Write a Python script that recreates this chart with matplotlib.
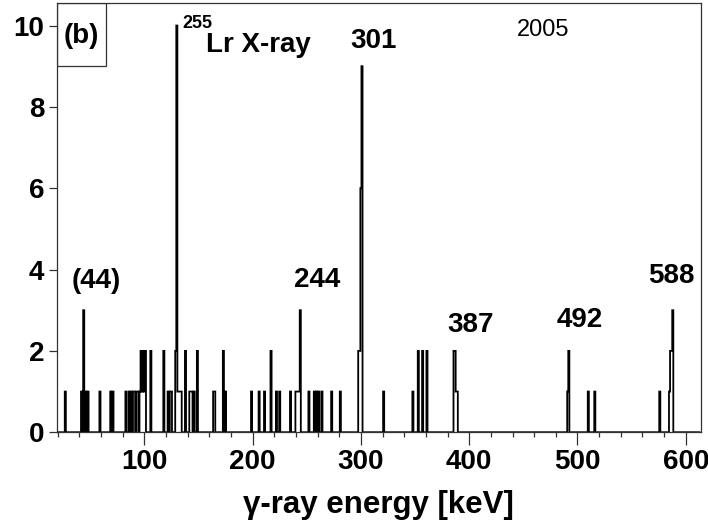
import matplotlib.pyplot as plt
import numpy as np
from matplotlib.patches import Rectangle
from matplotlib.ticker import MultipleLocator

# non-empty 1 keV bins of the gamma-ray spectrum
energy = [27, 42, 44, 46, 48, 59, 69, 71,
          83, 86, 88, 90, 91, 93, 94, 96, 97, 98, 99, 100, 101,
          106, 118, 122, 124, 125, 129, 130, 131, 132, 133, 134,
          138, 142, 143, 144, 146, 149, 164, 165, 173, 175,
          199, 206, 211, 217, 222, 225, 235, 240, 241, 242, 243, 244,
          252, 257, 259, 261, 264, 273, 281, 298, 299, 300, 301,
          321, 348, 353, 357, 361, 386, 387, 388, 389,
          491, 492, 510, 516, 576, 585, 586, 587, 588]
counts = [1, 1, 3, 1, 1, 1, 1, 1,
          1, 1, 1, 1, 1, 1, 1, 1, 2, 1, 2, 1, 2,
          2, 2, 1, 1, 1, 2, 10, 1, 1, 1, 1,
          2, 1, 1, 1, 1, 2, 1, 1, 2, 1,
          1, 1, 1, 2, 1, 1, 1, 1, 1, 1, 1, 3,
          1, 1, 1, 1, 1, 1, 1, 2, 2, 6, 9,
          1, 1, 2, 2, 2, 2, 2, 1, 1,
          1, 2, 1, 1, 1, 1, 2, 2, 3]

peak_labels = ['(44)', '244', '301', '387', '492', '588']
peak_label_xy = [(56, 3.73), (260, 3.75), (312, 9.62), (401, 2.64), (502, 2.77), (587, 3.83)]

e_lo, e_hi = 19, 614

plt.rcParams['font.family'] = ['Liberation Sans', 'DejaVu Sans']

fig = plt.figure(figsize=(7.08, 5.31), dpi=100)
ax = fig.add_axes([0.080, 0.186, 0.910, 0.808])

edges = np.arange(e_lo, e_hi + 1) - 0.5
hist = np.zeros(len(edges) - 1)
hist[np.array(energy) - e_lo] = counts
ax.stairs(hist, edges, baseline=0, color='black', lw=1.3)

ax.set_xlim(e_lo, e_hi)
ax.set_ylim(0, 10.55)
ax.set_xticks([100, 200, 300, 400, 500, 600])
ax.xaxis.set_minor_locator(MultipleLocator(20))
ax.set_yticks([0, 2, 4, 6, 8, 10])

for s in ax.spines.values():
    s.set_color('#333333')
    s.set_linewidth(0.9)
ax.tick_params(axis='both', which='major', direction='out', labelsize=20,
               width=0.9, color='#333333', pad=3)
ax.tick_params(axis='x', which='major', length=9)
ax.tick_params(axis='y', which='major', length=6)
ax.tick_params(axis='x', which='minor', direction='out', length=3.5, width=0.9, color='#333333')
for lab in ax.get_xticklabels() + ax.get_yticklabels():
    lab.set_fontweight('bold')

ax.set_xlabel('γ-ray energy [keV]', fontsize=22.5, fontweight='bold', labelpad=11)

for txt, (x, y) in zip(peak_labels, peak_label_xy):
    ax.text(x, y, txt, fontsize=20, fontweight='bold', ha='center', va='center')

ax.text(135.5, 10.04, '255', fontsize=13, fontweight='bold', ha='left', va='center')
ax.text(157, 9.52, 'Lr X-ray', fontsize=20, fontweight='bold', ha='left', va='center')
ax.text(468, 9.9, '2005', fontsize=17, ha='center', va='center')

# panel tag in its own box
ax.add_patch(Rectangle((0, 0.854), 0.076, 0.146, transform=ax.transAxes,
                       fill=False, edgecolor='#333333', lw=0.9))
ax.text(0.038, 0.924, '(b)', transform=ax.transAxes, fontsize=20, fontweight='bold',
        ha='center', va='center')

fig.savefig('out.png', dpi=100)
